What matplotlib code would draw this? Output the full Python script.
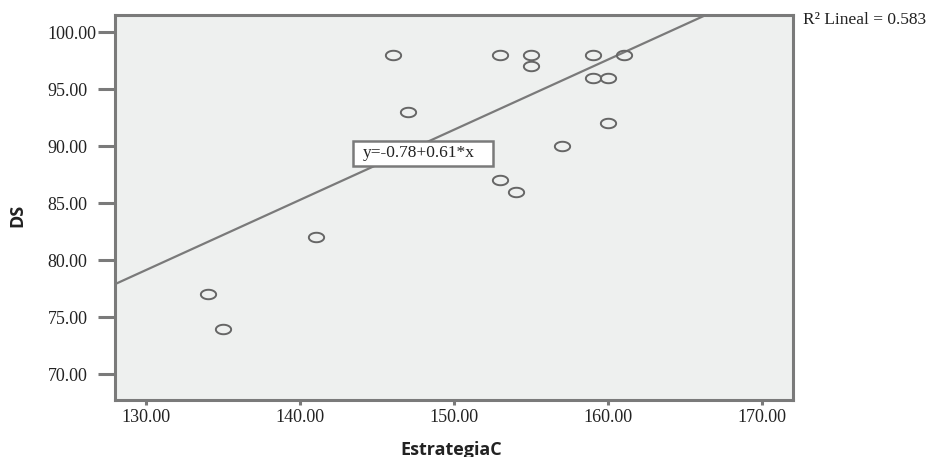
import matplotlib
matplotlib.use("Agg")
import matplotlib.pyplot as plt
import numpy as np
from matplotlib.path import Path
from matplotlib.patches import Rectangle

# data
estrategia_c = [146, 153, 155, 155, 159, 161, 159, 160, 147, 160, 157, 153, 154, 141, 134, 135]
ds = [98, 98, 98, 97, 98, 98, 96, 96, 93, 92, 90, 87, 86, 82, 77, 74]
intercept = -0.784
slope = 0.6149
r2 = 0.583
x_ticks = [130, 140, 150, 160, 170]
y_ticks = [70, 75, 80, 85, 90, 95, 100]

gray = "#7a7a7a"
serif = "Liberation Serif"

fig = plt.figure(figsize=(9.31, 4.57), dpi=100)
ax = fig.add_axes([0.124, 0.1247, 0.7278, 0.8425])
ax.set_facecolor("#eef0ef")

# elliptical open marker (as in the reference)
t = np.linspace(0, 2 * np.pi, 60)
ellipse = Path(np.column_stack([np.cos(t), 0.62 * np.sin(t)]), closed=True)
ax.plot(estrategia_c, ds, linestyle="none", marker=ellipse, markersize=11,
        markerfacecolor="none", markeredgecolor="#666666", markeredgewidth=1.4, zorder=3)

xl = np.array([128, 172])
ax.plot(xl, intercept + slope * xl, color=gray, linewidth=1.6, zorder=2)

ax.set_xlim(128, 172)
ax.set_ylim(67.75, 101.5)
ax.set_xticks(x_ticks)
ax.set_yticks(y_ticks)
ax.set_xticklabels([f"{v:.2f}" for v in x_ticks], fontfamily=serif, fontsize=13)
ax.set_yticklabels([f"{v:.2f}" for v in y_ticks], fontfamily=serif, fontsize=13)
for lab in ax.get_yticklabels():
    lab.set_ha("left")

for s in ax.spines.values():
    s.set_color(gray)
    s.set_linewidth(2.2)

ax.tick_params(axis="y", length=12, width=2.2, color=gray, pad=37, labelcolor="#222222")
ax.tick_params(axis="x", length=3.5, width=2.2, color=gray, pad=3, labelcolor="#222222")

ax.set_xlabel("EstrategiaC", fontfamily="Open Sans", fontweight="bold", fontsize=13,
              color="#222222")
ax.set_ylabel("DS", fontfamily="Open Sans", fontweight="bold", fontsize=13,
              color="#222222")
ax.xaxis.set_label_coords(0.4962, -0.1057)
ax.yaxis.set_label_coords(-0.131, 0.4805)

# equation box
ax.add_patch(Rectangle((143.44, 88.30), 9.08, 2.19, facecolor="white",
                       edgecolor=gray, linewidth=1.8, zorder=4))
ax.text(144.05, 89.40, f"y={intercept:.2f}+{slope:.2f}*x", fontfamily=serif, fontsize=12.5,
        va="center", ha="left", color="#222222", zorder=5)

fig.text(0.862, 1 - 20 / 457, f"R\u00b2 Lineal = {r2:.3f}", fontfamily=serif, fontsize=12.5,
         va="center", ha="left", color="#222222")

fig.savefig("out.png", dpi=100)
